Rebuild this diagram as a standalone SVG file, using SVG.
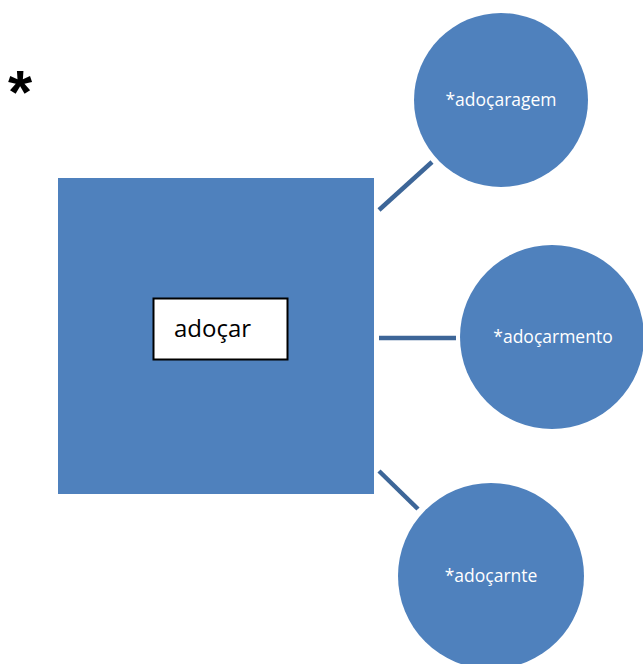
<svg xmlns="http://www.w3.org/2000/svg" width="643" height="664" viewBox="0 0 643 664">
<style>
.shape{fill:#4f81bd}
.conn{stroke:#3d6698;stroke-width:4.5;fill:none}
.ctext{fill:#fff;font-family:"Open Sans","Liberation Sans",sans-serif;font-size:17.5px;text-anchor:middle}
.label{fill:#000;font-family:"Open Sans","Liberation Sans",sans-serif;font-size:24px}
</style>
<rect width="643" height="664" fill="#fff"/>
<text x="8" y="113" font-family="Liberation Sans, sans-serif" font-size="62" font-weight="bold" fill="#000">*</text>
<g id="connectors">
<line class="conn" x1="379" y1="210" x2="432" y2="162"/>
<line class="conn" x1="379" y1="338" x2="456" y2="338"/>
<line class="conn" x1="379" y1="471" x2="418" y2="509"/>
</g>
<g id="root">
<rect class="shape" x="58" y="178" width="316" height="316"/>
<rect x="153.5" y="298.5" width="134" height="61" fill="#fff" stroke="#000" stroke-width="2"/>
<text class="label" x="174" y="337">adoçar</text>
</g>
<g id="n1">
<circle class="shape" cx="501" cy="100" r="87"/>
<text class="ctext" x="501" y="106">*adoçaragem</text>
</g>
<g id="n2">
<circle class="shape" cx="552" cy="337" r="92"/>
<text class="ctext" x="553" y="343">*adoçarmento</text>
</g>
<g id="n3">
<circle class="shape" cx="491" cy="576" r="93"/>
<text class="ctext" x="491" y="582">*adoçarnte</text>
</g>
</svg>
